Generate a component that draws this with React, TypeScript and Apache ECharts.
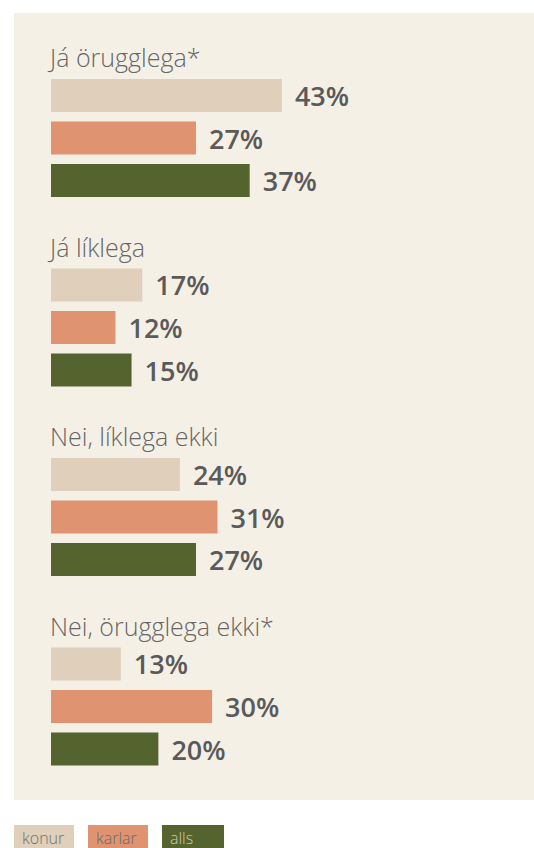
import React, { useEffect, useRef } from "react";
import * as echarts from "echarts";

const categories = ["Já örugglega*", "Já líklega", "Nei, líklega ekki", "Nei, örugglega ekki*"];
const seriesNames = ["konur", "karlar", "alls"];
const konur = [43, 17, 24, 13];
const karlar = [27, 12, 31, 30];
const alls = [37, 15, 27, 20];
const seriesValues = [konur, karlar, alls];
const colors = ["#e0cfba", "#e09371", "#55632e"];
const legendTextColors = ["#707070", "#6a6a6a", "#c5cbb5"];

const FONT = "'Open Sans', 'Noto Sans', sans-serif";

export default function App() {
  const ref = useRef<HTMLDivElement>(null);
  useEffect(() => {
    if (!ref.current) return;
    const chart = echarts.init(ref.current, null, { renderer: "svg" });
    const panel = {
      id: "panel",
      type: "rect",
      z: 0,
      silent: true,
      shape: { x: 14, y: 13, width: 520, height: 787 },
      style: { fill: "#f5f0e6" },
    };
    chart.setOption({
      animation: false,
      graphic: [panel],
      legend: {
        left: 9,
        top: 825,
        padding: 0,
        icon: "none",
        itemWidth: 0,
        itemHeight: 0,
        itemGap: 9,
        selectedMode: false,
        data: seriesNames.map((n, i) => ({
          name: n,
          textStyle: {
            backgroundColor: colors[i],
            color: legendTextColors[i],
            fontSize: 16,
            fontWeight: 300,
            fontFamily: FONT,
            width: i === 2 ? 47 : 45,
            padding: [4, 7, 6, 8],
          },
        })),
      },
      grid: { left: 51, right: 53.4, top: 43.25, bottom: 46.75, containLabel: false },
      xAxis: {
        type: "value",
        min: 0,
        max: 80,
        show: false,
      },
      yAxis: {
        type: "category",
        inverse: true,
        data: categories,
        axisLine: { show: false },
        axisTick: { show: false },
        splitLine: { show: false },
        axisLabel: { show: false },
      },
      series: seriesNames.map((n, i) => ({
        type: "bar",
        name: n,
        data: seriesValues[i],
        barWidth: 33,
        barGap: "28.8%",
        itemStyle: { color: colors[i] },
        label: {
          show: true,
          position: "right",
          distance: 13,
          formatter: "{c}%",
          fontSize: 27,
          fontWeight: 600,
          color: "#5a5a5a",
          fontFamily: FONT,
        },
      })),
    });
    const texts = categories.map((c) => {
      const y = chart.convertToPixel({ yAxisIndex: 0 }, c) as number;
      return {
        type: "text",
        z: 5,
        silent: true,
        x: 50,
        y: y - 81,
        style: {
          text: c,
          fontSize: 25,
          fontWeight: 300,
          fill: "#666666",
          fontFamily: FONT,
          align: "left",
          verticalAlign: "middle",
        },
      };
    });
    chart.setOption({ graphic: [panel, ...texts] });
    return () => chart.dispose();
  }, []);
  return (
    <div
      ref={ref}
      style={{ position: "fixed", left: 0, top: 0, width: 534, height: 848, background: "#ffffff" }}
    />
  );
}
